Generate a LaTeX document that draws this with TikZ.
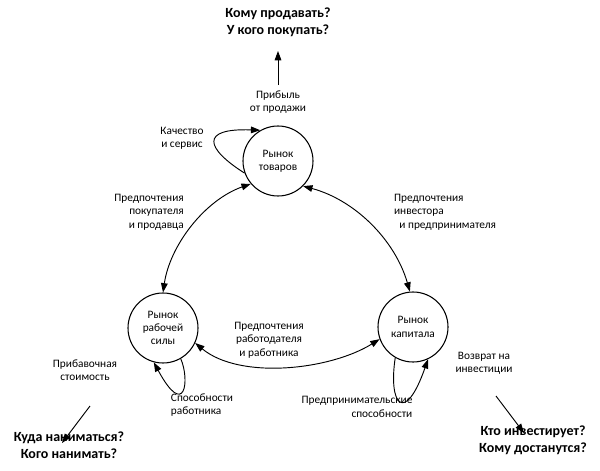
\documentclass[tikz,border=0pt]{standalone}
\usepackage{fontspec}
\setmainfont{Carlito}
\usetikzlibrary{arrows.meta}
\begin{document}
\begin{tikzpicture}[x=0.75pt,y=-0.75pt,
  mk/.style={circle,draw,line width=0.8pt,minimum size=70*0.75pt,inner sep=0pt,align=center,font=\fontsize{8.5}{10}\selectfont},
  lbl/.style={align=center,font=\fontsize{8.5}{10}\selectfont,inner sep=0pt},
  big/.style={align=center,font=\bfseries\fontsize{10.5}{13}\selectfont,inner sep=0pt},
  ar/.style={line width=0.7pt,-{Triangle[length=7pt,width=5pt]}},
  dar/.style={line width=0.7pt,{Triangle[length=7pt,width=5pt]}-{Triangle[length=7pt,width=5pt]}}]
\useasboundingbox (0,0) rectangle (600,471);
\node[mk] (t) at (278,161) {Рынок\\товаров};
\node[mk] (l) at (163,328) {Рынок\\рабочей\\силы};
\node[mk] (r) at (413,327) {Рынок\\капитала};
\node[big] (q1) at (278,22) {Кому продавать?\\У кого покупать?};
\node[big] (q2) at (69,445) {Куда наниматься?\\Кого нанимать?};
\node[big] (q3) at (533,440) {Кто инвестирует?\\Кому достанутся?};
\node[lbl] (p) at (278,102) {Прибыль\\от продажи};
\node[lbl] (ks) at (182,138) {Качество\\и сервис};
\node[lbl,align=right] (pp) at (149,212) {Предпочтения\\покупателя\\и продавца};
\node[lbl,align=left] (pi) at (445,212) {Предпочтения\\инвестора\\\hspace*{4pt}и предпринимателя};
\node[lbl] (pr) at (269,340) {Предпочтения\\работодателя\\и работника};
\node[lbl] (ps) at (85,370) {Прибавочная\\стоимость};
\node[lbl,align=left] (sr) at (202,405) {Способности\\работника};
\node[lbl,align=right] (ps2) at (357,407) {Предпринимательские\\способности};
\node[lbl] (vi) at (484,363) {Возврат на\\инвестиции};
\coordinate (a1) at (278,85); \coordinate (a2) at (278,51);
\draw[ar] (a1) -- (a2);
\coordinate (b1) at (90,406); \coordinate (b2) at (62,443);
\draw[ar] (b1) -- (b2);
\coordinate (c1) at (496,396); \coordinate (c2) at (524,433);
\draw[ar] (c1) -- (c2);
\draw[ar] (t.200) .. controls (205,148) and (200,128) .. (t.120);
\draw[dar] (t.220) .. controls (205,200) and (170,245) .. (l.north);
\draw[dar] (t.315) .. controls (355,200) and (395,240) .. (r.95);
\draw[dar] (l.335) .. controls (240,380) and (330,370) .. (r.200);
\draw[ar] (l.300) .. controls (190,380) and (185,420) .. (l.255);
\draw[ar] (r.240) .. controls (388,405) and (405,425) .. (r.295);
\end{tikzpicture}
\end{document}
